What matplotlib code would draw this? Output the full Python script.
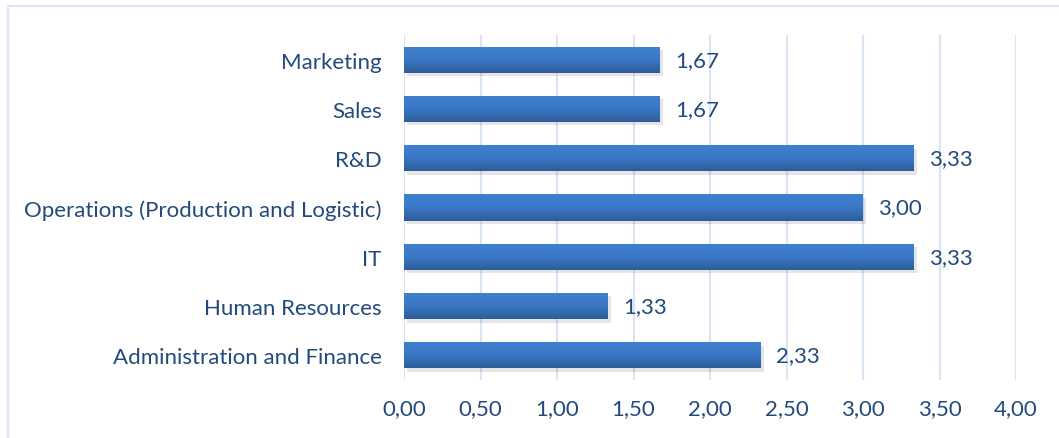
import matplotlib.pyplot as plt
import numpy as np
from matplotlib.patches import Rectangle
from matplotlib.colors import LinearSegmentedColormap

categories = ["Administration and Finance", "Human Resources", "IT",
              "Operations (Production and Logistic)", "R&D", "Sales", "Marketing"]
values = [2.33, 1.33, 3.33, 3.00, 3.33, 1.67, 1.67]
x_ticks = [0, 0.5, 1.0, 1.5, 2.0, 2.5, 3.0, 3.5, 4.0]

text_colour = "#234A7C"
grid_colour = "#DAE5F4"
plt.rcParams['font.family'] = ['Lato', 'DejaVu Sans']

fig = plt.figure(figsize=(10.59, 4.39), dpi=100)
ax = fig.add_axes([404 / 1059, 1 - 381 / 439, (1016 - 404) / 1059, (381 - 36) / 439])

y = np.arange(len(categories))
height = 0.53
grad = LinearSegmentedColormap.from_list("bar", ["#2D5C98", "#3A78C6", "#3F80D0"])

# shadow
ax.barh(y - 0.07, values, height=height, left=0.02, color="#000000", alpha=0.10,
        zorder=2, linewidth=0)
bars = ax.barh(y, values, height=height, color="#3A74BE", zorder=3, linewidth=0)
for b in bars:
    x0, y0, w, h = b.get_x(), b.get_y(), b.get_width(), b.get_height()
    im = ax.imshow(np.linspace(0, 1, 100).reshape(-1, 1), cmap=grad, aspect='auto',
                   extent=[x0, x0 + w, y0, y0 + h], origin='lower', zorder=4)
    im.set_clip_path(b)

for yi, v in zip(y, values):
    ax.text(v + 0.1, yi, f"{v:.2f}".replace(".", ","), va='center', ha='left',
            fontsize=16, color=text_colour, zorder=5)

ax.set_xlim(0, 4)
ax.set_ylim(-0.5, len(categories) - 0.5)
ax.set_xticks(x_ticks)
ax.set_xticklabels([f"{t:.2f}".replace(".", ",") for t in x_ticks])
ax.set_yticks(y)
ax.set_yticklabels(categories)
ax.tick_params(axis='both', length=0, labelsize=16, labelcolor=text_colour)
ax.tick_params(axis='x', pad=13)
ax.tick_params(axis='y', pad=16)
ax.xaxis.grid(True, color=grid_colour, linewidth=1.5, zorder=0)
ax.set_axisbelow(True)
for s in ax.spines.values():
    s.set_visible(False)

# chart area border (top and left visible)
fig.add_artist(Rectangle((7.5 / 1059, -0.1), 1.2, 1 - 6.5 / 439 + 0.1,
                         transform=fig.transFigure, fill=False,
                         edgecolor=grid_colour, linewidth=1.5))

fig.savefig("out.png", dpi=100)
